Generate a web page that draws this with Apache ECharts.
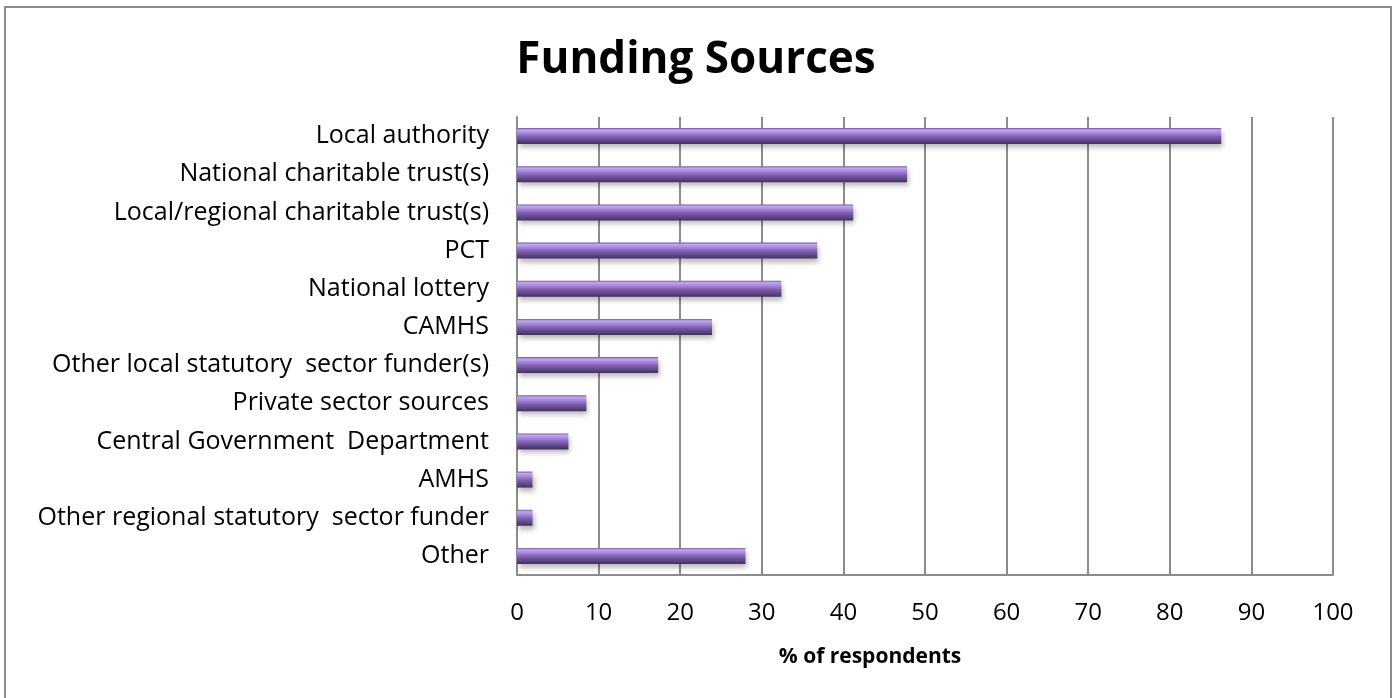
<!DOCTYPE html>
<html>
<head>
<meta charset="utf-8">
<style>
  html, body { margin: 0; padding: 0; background: #fff; }
  #chart { width: 1392px; height: 698px; }
</style>
<script src="https://cdn.jsdelivr.net/npm/echarts@6/dist/echarts.min.js"></script>
</head>
<body>
<div id="chart"></div>
<script>
// Funding sources, share of respondents (%)
const categories = [
  'Local authority',
  'National charitable trust(s)',
  'Local/regional charitable trust(s)',
  'PCT',
  'National lottery',
  'CAMHS',
  'Other local statutory  sector funder(s)',
  'Private sector sources',
  'Central Government  Department',
  'AMHS',
  'Other regional statutory  sector funder',
  'Other'
];
const percentValues = [86.3, 47.8, 41.2, 36.8, 32.4, 23.9, 17.3, 8.5, 6.3, 1.9, 1.9, 28.0];
const xTicks = { min: 0, max: 100, interval: 10 };

const font = '"Open Sans", "Noto Sans", sans-serif';
const gridColor = '#8c8c8c';

const chart = echarts.init(document.getElementById('chart'), null, { renderer: 'canvas' });

chart.setOption({
  backgroundColor: '#ffffff',
  animation: false,
  title: {
    text: 'Funding Sources',
    left: 'center',
    top: 33,
    textStyle: { fontFamily: font, fontWeight: 'bold', fontSize: 44, color: '#000' }
  },
  graphic: [{
    type: 'rect',
    shape: { x: 5, y: 7, width: 1386, height: 700 },
    style: { fill: 'none', stroke: gridColor, lineWidth: 2 },
    silent: true
  }],
  grid: { left: 517, right: 59, top: 117, bottom: 123 },
  xAxis: {
    type: 'value',
    min: xTicks.min,
    max: xTicks.max,
    interval: xTicks.interval,
    name: '% of respondents',
    nameLocation: 'middle',
    nameGap: 72,
    nameTextStyle: {
      fontFamily: font, fontWeight: 'bold', fontSize: 21, color: '#000',
      padding: [0, 110, 0, 0]
    },
    axisLine: { show: true, lineStyle: { color: gridColor, width: 2 } },
    axisTick: { show: false },
    axisLabel: { fontFamily: font, fontSize: 24, color: '#000', margin: 26 },
    splitLine: { show: true, lineStyle: { color: gridColor, width: 2 } }
  },
  yAxis: {
    type: 'category',
    data: categories,
    inverse: true,
    axisLine: { show: true, lineStyle: { color: gridColor, width: 2 } },
    axisTick: { show: false },
    axisLabel: { fontFamily: font, fontSize: 25, color: '#000', margin: 28 }
  },
  series: [{
    type: 'bar',
    data: percentValues,
    barWidth: 16,
    itemStyle: {
      color: {
        type: 'linear', x: 0, y: 0, x2: 0, y2: 1,
        colorStops: [
          { offset: 0, color: '#7558a2' },
          { offset: 0.12, color: '#c4a5f2' },
          { offset: 0.3, color: '#a888dc' },
          { offset: 0.55, color: '#7d5fb0' },
          { offset: 0.85, color: '#56407e' },
          { offset: 1, color: '#42315d' }
        ]
      },
      shadowColor: 'rgba(0,0,0,0.28)',
      shadowBlur: 5,
      shadowOffsetX: 2,
      shadowOffsetY: 4
    }
  }]
});
</script>
</body>
</html>
